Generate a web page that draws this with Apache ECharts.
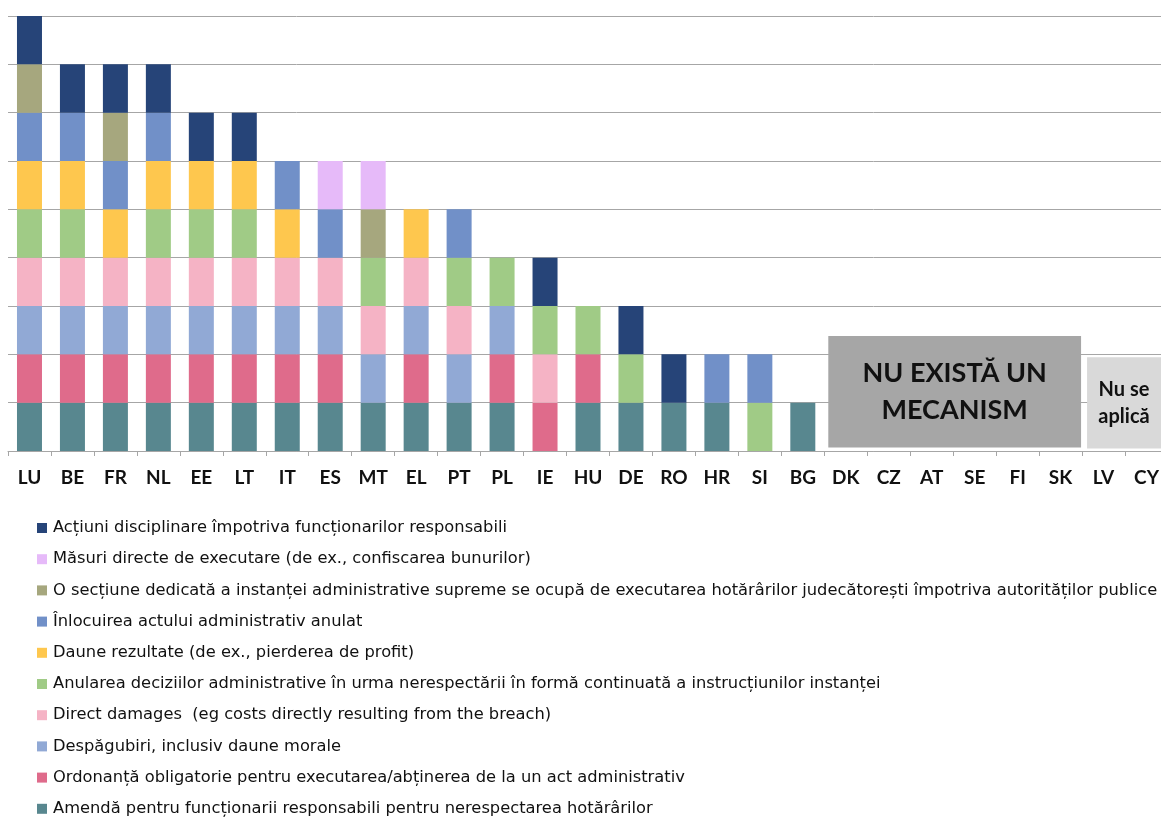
<!DOCTYPE html>
<html>
<head>
<meta charset="utf-8">
<script src="https://cdn.jsdelivr.net/npm/echarts@6/dist/echarts.min.js"></script>
<style>
  html, body { margin: 0; padding: 0; background: #ffffff; overflow: hidden; }
  #chart { width: 1161px; height: 818px; }
</style>
</head>
<body>
<div id="chart"></div>
<script>
// ---- Data ----
const countries = ['LU','BE','FR','NL','EE','LT','IT','ES','MT','EL','PT','PL','IE','HU','DE','RO','HR','SI','BG','DK','CZ','AT','SE','FI','SK','LV','CY'];

// Stack order: bottom -> top (1 = mechanism available)
const amenda        = [1,1,1,1,1,1,1,1,1,1,1,1,0,1,1,1,1,0,1,0,0,0,0,0,0,0,0];
const ordonanta     = [1,1,1,1,1,1,1,1,0,1,0,1,1,1,0,0,0,0,0,0,0,0,0,0,0,0,0];
const despagubiri   = [1,1,1,1,1,1,1,1,1,1,1,1,0,0,0,0,0,0,0,0,0,0,0,0,0,0,0];
const directDamages = [1,1,1,1,1,1,1,1,1,1,1,0,1,0,0,0,0,0,0,0,0,0,0,0,0,0,0];
const anularea      = [1,1,0,1,1,1,0,0,1,0,1,1,1,1,1,0,0,1,0,0,0,0,0,0,0,0,0];
const dauneRezultate= [1,1,1,1,1,1,1,0,0,1,0,0,0,0,0,0,0,0,0,0,0,0,0,0,0,0,0];
const inlocuirea    = [1,1,1,1,0,0,1,1,0,0,1,0,0,0,0,0,1,1,0,0,0,0,0,0,0,0,0];
const sectiune      = [1,0,1,0,0,0,0,0,1,0,0,0,0,0,0,0,0,0,0,0,0,0,0,0,0,0,0];
const masuriDirecte = [0,0,0,0,0,0,0,1,1,0,0,0,0,0,0,0,0,0,0,0,0,0,0,0,0,0,0];
const actiuni       = [1,1,1,1,1,1,0,0,0,0,0,0,1,0,1,1,0,0,0,0,0,0,0,0,0,0,0];

const seriesNames = [
  'Amendă pentru funcționarii responsabili pentru nerespectarea hotărârilor',
  'Ordonanță obligatorie pentru executarea/abținerea de la un act administrativ',
  'Despăgubiri, inclusiv daune morale',
  'Direct damages  (eg costs directly resulting from the breach)',
  'Anularea deciziilor administrative în urma nerespectării în formă continuată a instrucțiunilor instanței',
  'Daune rezultate (de ex., pierderea de profit)',
  'Înlocuirea actului administrativ anulat',
  'O secțiune dedicată a instanței administrative supreme se ocupă de executarea hotărârilor judecătorești împotriva autorităților publice',
  'Măsuri directe de executare (de ex., confiscarea bunurilor)',
  'Acțiuni disciplinare împotriva funcționarilor responsabili'
];
const seriesValues = [amenda, ordonanta, despagubiri, directDamages, anularea, dauneRezultate, inlocuirea, sectiune, masuriDirecte, actiuni];
const seriesColors = ['#58878f','#df6b8b','#91a9d5','#f5b3c5','#a0cb86','#fec74e','#7190c8','#a6a77e','#e6baf9','#264478'];

// Annotations (category range + value extent)
const noteText   = ['NU EXISTĂ UN\nMECANISM', 'Nu se\naplică'];
const noteFrom   = ['DK', 'LV'];
const noteTo     = ['SK', 'CY'];
const noteTop    = [2.38, 1.94];
const noteBottom = [0.07, 0.05];

// ---- Chart ----
const chart = echarts.init(document.getElementById('chart'), null, { renderer: 'canvas' });
const FONT = 'Lato';
const LEGEND_FONT = 'DejaVu Sans';

const barSeries = seriesNames.map((name, i) => ({
  name: name,
  type: 'bar',
  stack: 'total',
  barWidth: 25,
  itemStyle: { color: seriesColors[i] },
  data: seriesValues[i].map(v => (v ? v : '-'))
}));

const noteStyles = [
  { fill: '#a6a6a6', font: 'bold 27px ' + FONT, lineHeight: 37, insetL: 4, insetR: 1 },
  { fill: '#d9d9d9', font: 'bold 20px ' + FONT, lineHeight: 27, insetL: 5, insetR: 7 }
];

const noteSeries = {
  type: 'custom',
  name: 'notes',
  silent: true,
  z: 5,
  data: noteText.map((t, i) => ({
    value: [countries.indexOf(noteFrom[i]), noteTop[i], countries.indexOf(noteTo[i]), noteBottom[i]],
    text: t
  })),
  renderItem: function (params, api) {
    const idx = params.dataIndex;
    const st = noteStyles[idx];
    const band = api.size([1, 0])[0];
    const pTop = api.coord([api.value(0), api.value(1)]);
    const pBot = api.coord([api.value(2), api.value(3)]);
    const x0 = pTop[0] - band / 2 + st.insetL;
    const x1 = pBot[0] + band / 2 - st.insetR;
    return {
      type: 'rect',
      shape: { x: x0, y: pTop[1], width: x1 - x0, height: pBot[1] - pTop[1] },
      style: { fill: st.fill },
      textContent: {
        style: {
          text: noteText[idx],
          font: st.font,
          lineHeight: st.lineHeight,
          fill: '#111111',
          align: 'center',
          verticalAlign: 'middle'
        }
      },
      textConfig: { position: 'inside' }
    };
  }
};

const option = {
  animation: false,
  backgroundColor: '#ffffff',
  textStyle: { fontFamily: FONT },
  grid: { left: 8, width: 1160, top: 16, bottom: 367, containLabel: false, outerBoundsMode: 'none' },
  legend: {
    orient: 'vertical',
    left: 32,
    top: 515,
    height: 330,
    itemWidth: 10,
    itemHeight: 10,
    itemGap: 15.2,
    icon: 'rect',
    selectedMode: false,
    data: seriesNames.slice().reverse(),
    textStyle: { fontFamily: LEGEND_FONT, fontSize: 16.3, color: '#111111', lineHeight: 16, padding: [0, 0, 0, 1] }
  },
  xAxis: {
    type: 'category',
    data: countries,
    axisLine: { show: true, lineStyle: { color: '#a6a6a6', width: 1 } },
    axisTick: { show: true, length: 5, lineStyle: { color: '#a6a6a6' } },
    axisLabel: { fontFamily: FONT, fontSize: 19, fontWeight: 'bold', color: '#111111', margin: 17, interval: 0 }
  },
  yAxis: {
    type: 'value',
    min: 0,
    max: 9,
    interval: 1,
    axisLabel: { show: false },
    axisLine: { show: false },
    axisTick: { show: false },
    splitLine: { show: true, lineStyle: { color: '#a6a6a6', width: 1 } }
  },
  series: barSeries.concat([noteSeries])
};

chart.setOption(option);
</script>
</body>
</html>
